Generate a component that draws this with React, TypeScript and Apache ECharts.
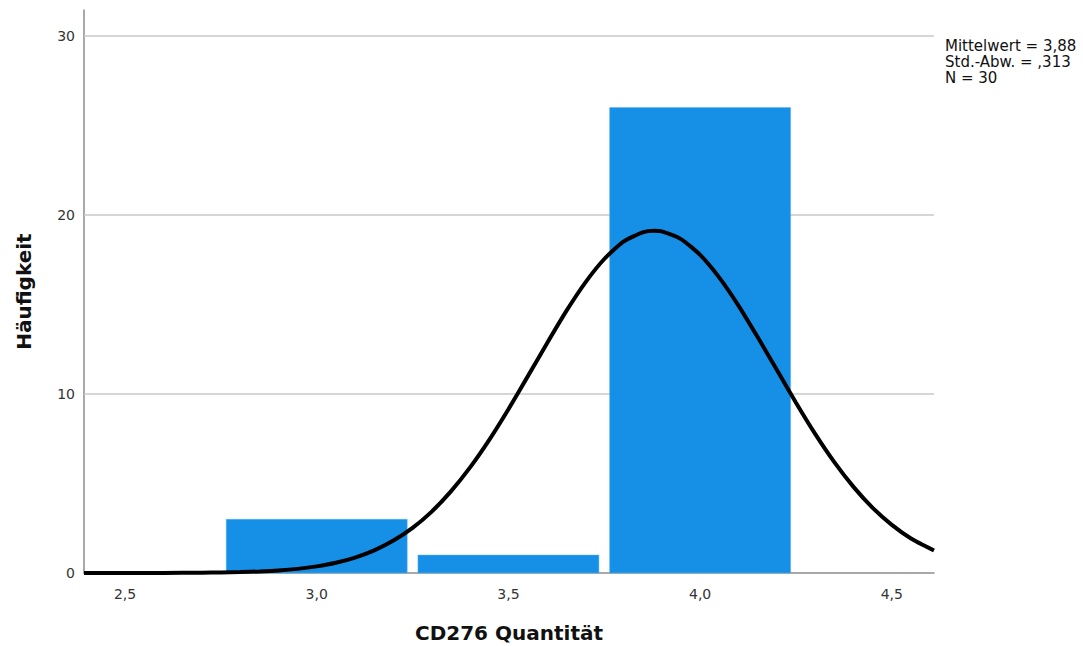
import React, { useEffect, useRef } from "react";
import * as echarts from "echarts";

const binCenters = [3.0, 3.5, 4.0];
const binCounts = [3, 1, 26];
const curveX = [2.393, 2.5, 2.6, 2.7, 2.75, 2.8, 2.85, 2.9, 2.95, 3.0, 3.05, 3.1, 3.15, 3.2, 3.25, 3.3, 3.35, 3.4, 3.45, 3.5, 3.55, 3.6, 3.65, 3.7, 3.75, 3.8, 3.85, 3.88, 3.9, 3.95, 4.0, 4.05, 4.1, 4.15, 4.2, 4.25, 4.3, 4.35, 4.4, 4.45, 4.5, 4.55, 4.61];
const curveY = [0.0, 0.001, 0.005, 0.017, 0.028, 0.05, 0.085, 0.14, 0.23, 0.37, 0.57, 0.86, 1.26, 1.81, 2.52, 3.43, 4.56, 5.9, 7.44, 9.15, 10.97, 12.81, 14.6, 16.21, 17.54, 18.51, 19.03, 19.12, 19.08, 18.65, 17.77, 16.5, 14.94, 13.18, 11.35, 9.51, 7.77, 6.19, 4.81, 3.64, 2.69, 1.93, 1.26];
const xTicks = [2.5, 3.0, 3.5, 4.0, 4.5];
const yTicks = [0, 10, 20, 30];
const yGrid = [10, 20, 30];
const statsLines = ["Mittelwert = 3,88", "Std.-Abw. = ,313", "N = 30"];

export default function App() {
  const ref = useRef<HTMLDivElement>(null);
  useEffect(() => {
    if (!ref.current) return;
    const chart = echarts.init(ref.current, null, { renderer: "svg" });
    const halfW = 0.236;
    chart.setOption({
      animation: false,
      textStyle: { fontFamily: "DejaVu Sans" },
      grid: { left: 84, right: 149, top: 10, bottom: 73, outerBoundsMode: "none", containLabel: false },
      xAxis: {
        type: "value",
        min: 2.393,
        max: 4.61,
        name: "CD276 Quantität",
        nameLocation: "middle",
        nameGap: 50,
        nameTextStyle: { fontSize: 20, fontWeight: "bold", color: "#111", fontFamily: "DejaVu Sans" },
        axisLine: { show: true, lineStyle: { color: "#8c8c8c", width: 1.5 } },
        axisTick: { show: false },
        splitLine: { show: false },
        axisLabel: {
          customValues: xTicks,
          fontSize: 14,
          color: "#333",
          margin: 14,
          fontFamily: "DejaVu Sans",
          formatter: (v: number) => v.toFixed(1).replace(".", ","),
        },
      },
      yAxis: {
        type: "value",
        min: 0,
        max: 31.45,
        name: "Häufigkeit",
        nameLocation: "middle",
        nameGap: 50,
        nameTextStyle: { fontSize: 20, fontWeight: "bold", color: "#111", fontFamily: "DejaVu Sans" },
        axisLine: { show: true, lineStyle: { color: "#8c8c8c", width: 1.5 } },
        axisTick: { show: false },
        splitLine: { show: false },
        axisLabel: {
          customValues: yTicks,
          fontSize: 14,
          color: "#333",
          margin: 9,
          fontFamily: "DejaVu Sans",
        },
      },
      series: [
        {
          type: "custom",
          data: binCenters.map((c, i) => [c, binCounts[i]]),
          renderItem: (params: any, api: any) => {
            const c = api.value(0);
            const v = api.value(1);
            const p0 = api.coord([c - halfW, v]);
            const p1 = api.coord([c + halfW, 0]);
            return {
              type: "rect",
              shape: { x: p0[0], y: p0[1], width: p1[0] - p0[0], height: p1[1] - p0[1] },
              style: { fill: "#1690e6", stroke: "#5aaef0", lineWidth: 0.5 },
            };
          },
          z: 2,
        },
        {
          type: "line",
          data: curveX.map((x, i) => [x, curveY[i]]),
          smooth: 0.2,
          showSymbol: false,
          symbol: "none",
          lineStyle: { color: "#000", width: 4 },
          z: 5,
          markLine: {
            silent: true,
            symbol: "none",
            label: { show: false },
            lineStyle: { color: "#c8c8c8", width: 1.5, type: "solid" },
            data: yGrid.map((y) => ({ yAxis: y })),
            z: 1,
          },
        },
      ],
      graphic: [
        {
          type: "text",
          left: 945,
          top: 38,
          style: {
            text: statsLines.join("\n"),
            fontSize: 15,
            lineHeight: 16,
            fill: "#111",
            fontFamily: "DejaVu Sans",
          },
        },
      ],
    });
    return () => chart.dispose();
  }, []);
  return <div ref={ref} style={{ width: 1083, height: 646, position: "absolute", left: 0, top: 0 }} />;
}
